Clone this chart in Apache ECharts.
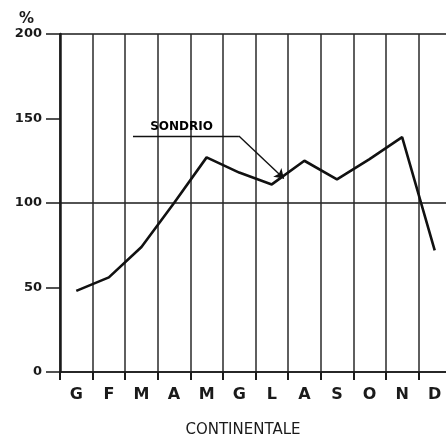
<!DOCTYPE html>
<html>
<head>
<meta charset="utf-8">
<style>html,body{margin:0;padding:0;background:#fff;}#c{width:446px;height:438px;}</style>
<script src="https://cdn.jsdelivr.net/npm/echarts@6/dist/echarts.min.js"></script>
</head>
<body>
<div id="c"></div>
<script>
const months = ['G','F','M','A','M','G','L','A','S','O','N','D'];
const sondrio = [48, 56, 74, 100, 127, 118, 111, 125, 114, 126, 139, 72];
const yTicks = [0, 50, 100, 150, 200];
const seriesName = 'SONDRIO';
const xTitle = 'CONTINENTALE';
// annotation (in month-index units on a helper axis, and % values)
const labelPos = [3.73, 145];
const leaderFlat = [[2.24, 139.6], [5.49, 139.6]];
const leaderArrow = [[5.49, 139.6], [6.87, 114.5]];

const chart = echarts.init(document.getElementById('c'), null, {renderer: 'canvas'});
const ink = '#1a1a1a';
chart.setOption({
  animation: false,
  backgroundColor: '#fff',
  title: {
    text: '%', left: 14, top: 7,
    textStyle: {fontFamily: 'DejaVu Sans', fontWeight: 'bold', fontSize: 15, color: ink}
  },
  grid: {left: 60, width: 391, top: 34, bottom: 66, outerBoundsMode: 'none', containLabel: false},
  xAxis: [{
    type: 'category',
    data: months,
    boundaryGap: true,
    axisLine: {show: true, lineStyle: {color: ink, width: 1.5}},
    axisTick: {show: true, length: 8, lineStyle: {color: ink, width: 2}},
    splitLine: {show: true, lineStyle: {color: '#2a2a2a', width: 1.5}},
    axisLabel: {fontFamily: 'DejaVu Sans', fontWeight: 'bold', fontSize: 16, color: ink, margin: 15},
    name: xTitle,
    nameLocation: 'middle',
    nameGap: 51,
    nameTextStyle: {fontFamily: 'DejaVu Sans', fontSize: 15, color: ink, padding: [0, 25, 0, 0]}
  }, {
    type: 'value', min: 0, max: 12, show: false
  }],
  yAxis: [{
    type: 'value', min: yTicks[0], max: yTicks[yTicks.length - 1], interval: 50,
    axisLine: {show: true, lineStyle: {color: ink, width: 2.5}},
    axisTick: {show: true, length: 14, lineStyle: {color: ink, width: 1.5}},
    splitLine: {show: false},
    axisLabel: {fontFamily: 'DejaVu Sans', fontWeight: 'bold', fontSize: 13, color: ink, margin: 18}
  }, {
    type: 'value', min: 0, max: 200, interval: 100, position: 'left',
    axisLine: {show: false}, axisTick: {show: false}, axisLabel: {show: false},
    splitLine: {show: true, lineStyle: {color: ink, width: 1.5}}
  }],
  series: [{
    name: seriesName,
    type: 'line',
    data: sondrio,
    showSymbol: false,
    symbol: 'none',
    lineStyle: {color: '#111', width: 2.6},
    z: 5
  }, {
    type: 'lines',
    coordinateSystem: 'cartesian2d',
    xAxisIndex: 1, yAxisIndex: 0,
    symbol: ['none', 'none'],
    lineStyle: {color: '#111', width: 1.4, opacity: 1},
    data: [{coords: leaderFlat}],
    z: 4
  }, {
    type: 'lines',
    coordinateSystem: 'cartesian2d',
    xAxisIndex: 1, yAxisIndex: 0,
    symbol: ['none', 'arrow'],
    symbolSize: 9,
    lineStyle: {color: '#111', width: 1.4, opacity: 1},
    data: [{coords: leaderArrow}],
    z: 4
  }, {
    type: 'scatter',
    xAxisIndex: 1, yAxisIndex: 0,
    symbolSize: 0,
    itemStyle: {opacity: 1},
    data: [labelPos],
    label: {
      show: true, position: 'inside', formatter: seriesName,
      fontFamily: 'DejaVu Sans', fontWeight: 'bold', fontSize: 12, color: '#000', opacity: 1
    },
    z: 6
  }]
});
</script>
</body>
</html>
